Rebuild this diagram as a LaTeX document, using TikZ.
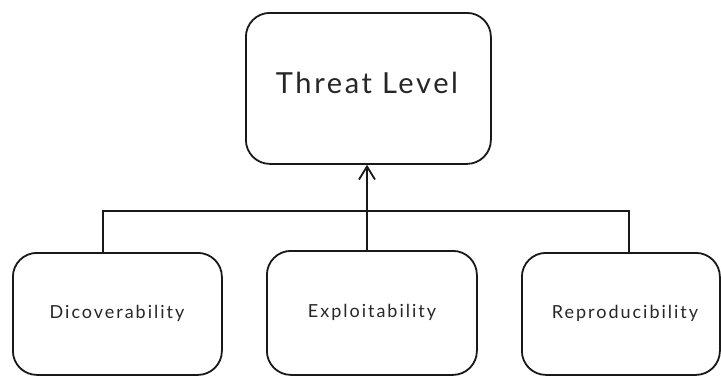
\documentclass[tikz,border=0pt]{standalone}
\usepackage{fontspec}
\setmainfont{Lato}
\usetikzlibrary{arrows.meta}
\begin{document}
\begin{tikzpicture}[x=1pt,y=-1pt,
  boxnode/.style={draw=black!90, line width=1.8pt, rounded corners=24pt, inner sep=0pt, anchor=north west},
  toplabel/.style={font=\fontsize{29}{32}\selectfont\addfontfeatures{LetterSpace=9}, text=black!85},
  botlabel/.style={font=\fontsize{18}{21}\selectfont\addfontfeatures{LetterSpace=11}, text=black!85},
  link/.style={draw=black!90, line width=1.8pt}]
\useasboundingbox (0,0) rectangle (721,376);
\node[boxnode, minimum width=245pt, minimum height=151pt] (top) at (245,12) {};
\node[toplabel] (toptxt) at (367,83) {Threat Level};
\node[boxnode, minimum width=209pt, minimum height=122pt] (b1) at (12,252) {};
\node[boxnode, minimum width=210pt, minimum height=124pt] (b2) at (266,250) {};
\node[boxnode, minimum width=198pt, minimum height=122pt] (b3) at (521,252) {};
\node[botlabel] (t1) at (117,313) {Dicoverability};
\node[botlabel] (t2) at (372,312) {Exploitability};
\node[botlabel] (t3) at (625,313) {Reproducibility};
\coordinate (jl) at (103,211);
\coordinate (jr) at (629,211);
\coordinate (jm) at (367,211);
\draw[link] (b1.north -| jl) -- (jl) -- (jr) -- (b3.north -| jr);
\draw[link, -{Straight Barb[length=13pt, width=16pt, line width=1.8pt]}] (b2.north -| jm) -- (top.south -| jm);
\end{tikzpicture}
\end{document}
